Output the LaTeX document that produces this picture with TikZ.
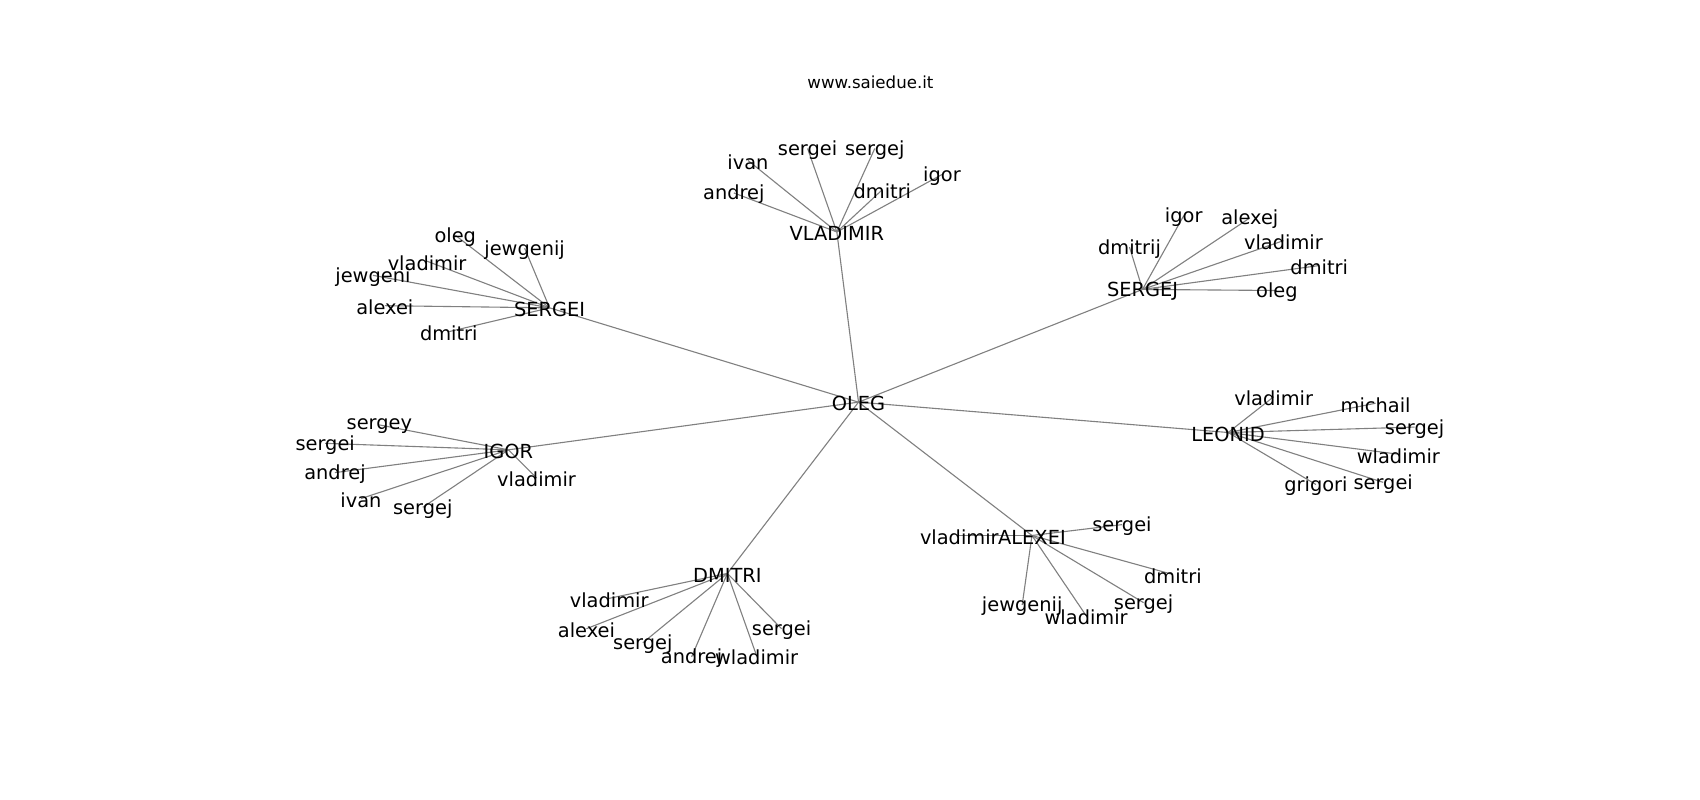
\documentclass[tikz,border=0pt]{standalone}
\usepackage{fontspec}
\setmainfont{DejaVu Sans}
\begin{document}
\begin{tikzpicture}[x=0.01084in,y=-0.01084in,
  lbl/.style={inner sep=0pt,yshift=-1.2pt,font=\fontsize{14}{16}\selectfont,text=black},
  ttl/.style={inner sep=0pt,yshift=-1pt,font=\fontsize{12}{14}\selectfont,text=black},
  edge/.style={draw=gray,line width=0.8pt}]
\useasboundingbox (0,0) rectangle (1568.3,738);
% hubs
\coordinate (oleg) at (792,371);
\coordinate (vlad) at (772,214);
\coordinate (serg) at (507,284);
\coordinate (sgj) at (1054,267);
\coordinate (leo) at (1133,399);
\coordinate (alx) at (952,494);
\coordinate (dmi) at (671,529);
\coordinate (igo) at (469,415);
% leaves
\coordinate (v1) at (690,148); \coordinate (v2) at (745,137); \coordinate (v3) at (807,137);
\coordinate (v4) at (677,178); \coordinate (v5) at (814,175); \coordinate (v6) at (869,161);
\coordinate (s1) at (420,217); \coordinate (s2) at (484,229); \coordinate (s3) at (394,241);
\coordinate (s4) at (344,254); \coordinate (s5) at (355,282); \coordinate (s6) at (414,306);
\coordinate (j1) at (1092,199); \coordinate (j2) at (1153,201); \coordinate (j3) at (1042,228);
\coordinate (j4) at (1184,222); \coordinate (j5) at (1217,245); \coordinate (j6) at (1178,268);
\coordinate (l1) at (1175,366); \coordinate (l2) at (1269,372); \coordinate (l3) at (1305,394);
\coordinate (l4) at (1290,419); \coordinate (l5) at (1214,447); \coordinate (l6) at (1276,445);
\coordinate (i1) at (350,392); \coordinate (i2) at (300,409); \coordinate (i3) at (309,436);
\coordinate (i4) at (333,460); \coordinate (i5) at (390,468); \coordinate (i6) at (495,441);
\coordinate (a1) at (885,494); \coordinate (a2) at (1035,484); \coordinate (a3) at (1082,530);
\coordinate (a4) at (943,558); \coordinate (a5) at (1002,568); \coordinate (a6) at (1055,556);
\coordinate (d1) at (562,552); \coordinate (d2) at (541,580); \coordinate (d3) at (593,593);
\coordinate (d4) at (638,606); \coordinate (d5) at (698,605); \coordinate (d6) at (721,580);
% edges
\foreach \h in {vlad,serg,sgj,leo,alx,dmi,igo} \draw[edge] (oleg) -- (\h);
\foreach \c in {v1,v2,v3,v4,v5,v6} \draw[edge] (vlad) -- (\c);
\foreach \c in {s1,s2,s3,s4,s5,s6} \draw[edge] (serg) -- (\c);
\foreach \c in {j1,j2,j3,j4,j5,j6} \draw[edge] (sgj) -- (\c);
\foreach \c in {l1,l2,l3,l4,l5,l6} \draw[edge] (leo) -- (\c);
\foreach \c in {i1,i2,i3,i4,i5,i6} \draw[edge] (igo) -- (\c);
\foreach \c in {a1,a2,a3,a4,a5,a6} \draw[edge] (alx) -- (\c);
\foreach \c in {d1,d2,d3,d4,d5,d6} \draw[edge] (dmi) -- (\c);
% labels
\node[ttl] (title) at (803,75) {www.saiedue.it};
\node[lbl] (nOLEG) at (oleg) {OLEG};
\node[lbl] (nVLAD) at (vlad) {VLADIMIR};
\node[lbl] (nSERG) at (serg) {SERGEI};
\node[lbl] (nSGJ) at (sgj) {SERGEJ};
\node[lbl] (nLEO) at (leo) {LEONID};
\node[lbl] (nALX) at (alx) {ALEXEI};
\node[lbl] (nDMI) at (dmi) {DMITRI};
\node[lbl] (nIGO) at (igo) {IGOR};
\node[lbl] (nv1) at (v1) {ivan};
\node[lbl] (nv2) at (v2) {sergei};
\node[lbl] (nv3) at (v3) {sergej};
\node[lbl] (nv4) at (v4) {andrej};
\node[lbl] (nv5) at (v5) {dmitri};
\node[lbl] (nv6) at (v6) {igor};
\node[lbl] (ns1) at (s1) {oleg};
\node[lbl] (ns2) at (s2) {jewgenij};
\node[lbl] (ns3) at (s3) {vladimir};
\node[lbl] (ns4) at (s4) {jewgeni};
\node[lbl] (ns5) at (s5) {alexei};
\node[lbl] (ns6) at (s6) {dmitri};
\node[lbl] (nj1) at (j1) {igor};
\node[lbl] (nj2) at (j2) {alexej};
\node[lbl] (nj3) at (j3) {dmitrij};
\node[lbl] (nj4) at (j4) {vladimir};
\node[lbl] (nj5) at (j5) {dmitri};
\node[lbl] (nj6) at (j6) {oleg};
\node[lbl] (nl1) at (l1) {vladimir};
\node[lbl] (nl2) at (l2) {michail};
\node[lbl] (nl3) at (l3) {sergej};
\node[lbl] (nl4) at (l4) {wladimir};
\node[lbl] (nl5) at (l5) {grigori};
\node[lbl] (nl6) at (l6) {sergei};
\node[lbl] (ni1) at (i1) {sergey};
\node[lbl] (ni2) at (i2) {sergei};
\node[lbl] (ni3) at (i3) {andrej};
\node[lbl] (ni4) at (i4) {ivan};
\node[lbl] (ni5) at (i5) {sergej};
\node[lbl] (ni6) at (i6) {vladimir};
\node[lbl] (na1) at (a1) {vladimir};
\node[lbl] (na2) at (a2) {sergei};
\node[lbl] (na3) at (a3) {dmitri};
\node[lbl] (na4) at (a4) {jewgenij};
\node[lbl] (na5) at (a5) {wladimir};
\node[lbl] (na6) at (a6) {sergej};
\node[lbl] (nd1) at (d1) {vladimir};
\node[lbl] (nd2) at (d2) {alexei};
\node[lbl] (nd3) at (d3) {sergej};
\node[lbl] (nd4) at (d4) {andrej};
\node[lbl] (nd5) at (d5) {wladimir};
\node[lbl] (nd6) at (d6) {sergei};
\end{tikzpicture}
\end{document}
